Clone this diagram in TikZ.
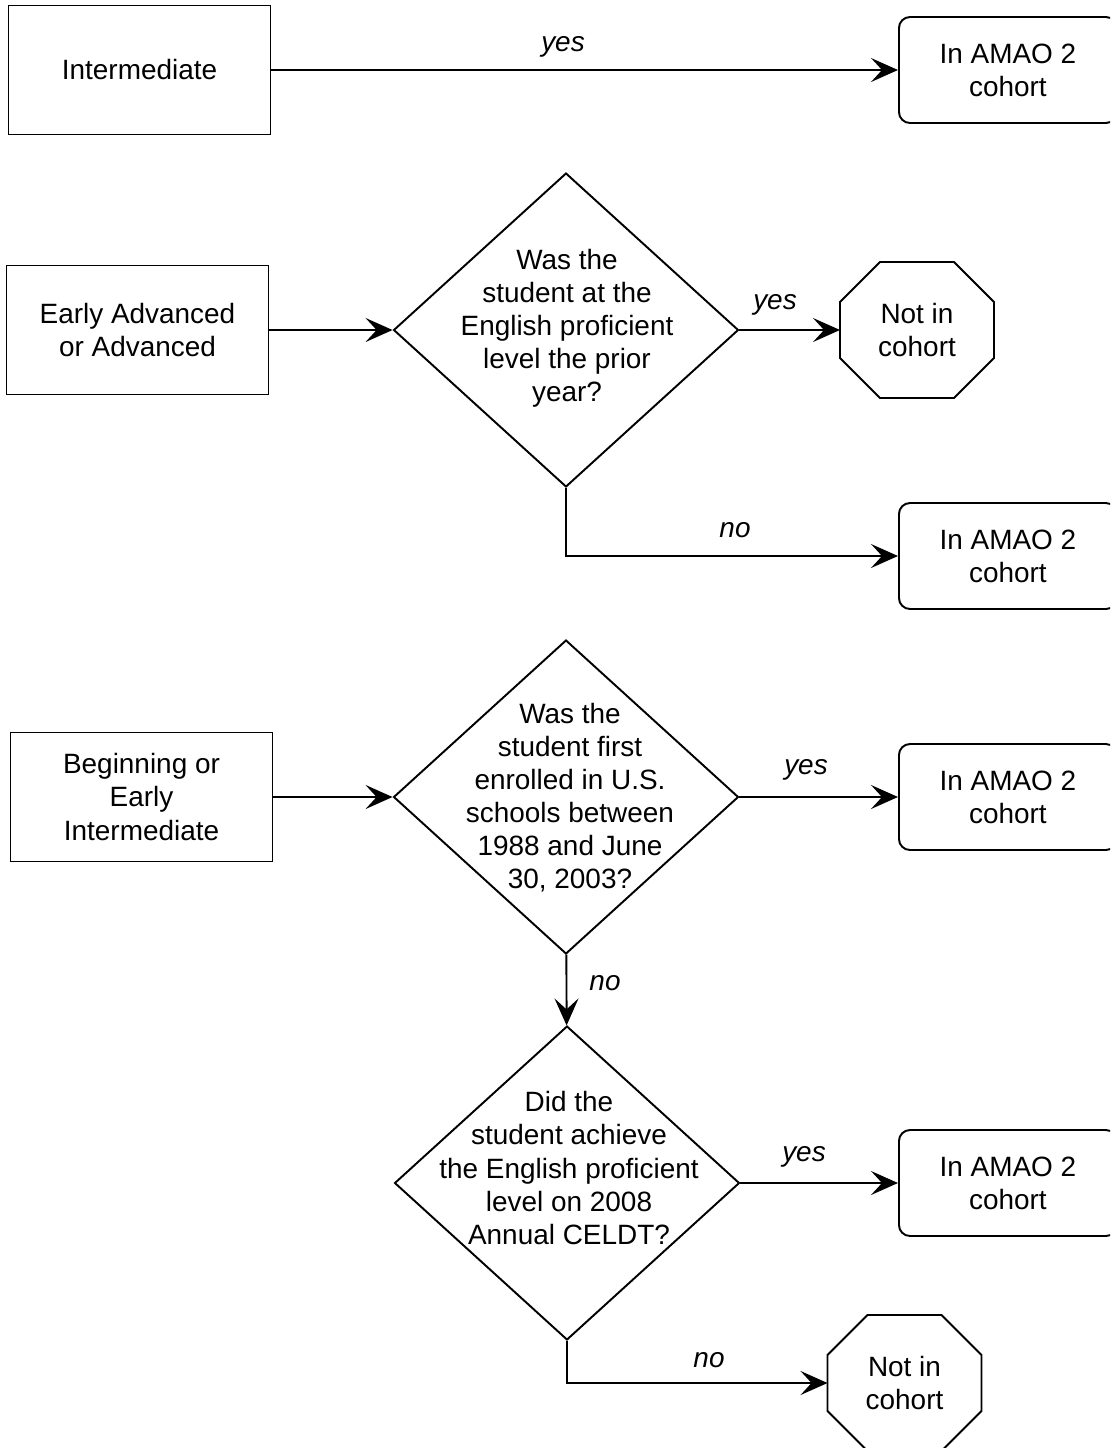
\documentclass[tikz,border=0pt]{standalone}
\usepackage{fontspec}
\setmainfont{Liberation Sans}
\usetikzlibrary{shapes.geometric,positioning,arrows.meta}
\tikzset {
levelbox/.style={shape=rectangle,draw,minimum width=5.24cm,minimum height=2.58cm},
question/.style={shape=diamond,draw,minimum width=6.9cm,minimum height=6.28cm,inner sep=0pt},
cohort/.style={shape=rectangle,draw,rounded corners=0.22cm,minimum width=4.36cm,minimum height=2.12cm,anchor=west},
exitbox/.style={shape=rectangle,minimum width=3.08cm,minimum height=2.72cm,outer sep=0pt},
answer/.style={font=\fontsize{15.9pt}{18.8pt}\selectfont\itshape}
}
% octagon drawn round a plain node
\newcommand{\octagonframe}[1]{%
\draw ([xshift=0.8cm]#1.north west) -- ([xshift=-0.8cm]#1.north east)
 -- ([yshift=-0.8cm]#1.north east) -- ([yshift=0.8cm]#1.south east)
 -- ([xshift=-0.8cm]#1.south east) -- ([xshift=0.8cm]#1.south west)
 -- ([yshift=0.8cm]#1.south west) -- ([yshift=-0.8cm]#1.north west) -- cycle;}

\begin{document}
\begin{tikzpicture}
[x=0.02cm,y=-0.02cm,line width=1.1pt,>={Stealth[length=0.54cm,width=0.48cm,inset=0.22cm]},
every node/.style={align=center,font=\fontsize{15.9pt}{18.8pt}\selectfont}]
\clip (0,0) rectangle (1110,1448);

% intermediate
\node[levelbox] (intermediate) at (139.5,70) {Intermediate};
\node[cohort] (cohort a) at (898,70) {In AMAO 2\\cohort};

% early advanced or advanced
\node[levelbox] (advanced) at (137.5,330) {Early Advanced\\or Advanced};
\node[question] (prior year) at (566,330) {};
\node (prior year text) at (567,328) {Was the\\student at the\\English proficient\\level the prior\\year?};
\node[exitbox] (not in a) at (917,330) {Not in\\cohort};
\octagonframe{not in a}
\node[cohort] (cohort b) at (898,556) {In AMAO 2\\cohort};

% beginning or early intermediate
\node[levelbox] (beginning) at (141.5,797) {Beginning or\\Early\\Intermediate};
\node[question] (first enrolled) at (566,797) {};
\node (first enrolled text) at (570,797.5) {Was the\\student first\\enrolled in U.S.\\schools between\\1988 and June\\30, 2003?};
\node[cohort] (cohort c) at (898,797) {In AMAO 2\\cohort};
\node[question] (celdt) at (567,1183) {};
\node (celdt text) at (569,1168) {Did the\\student achieve\\the English proficient\\level on 2008\\Annual CELDT?};
\node[cohort] (cohort d) at (898,1183) {In AMAO 2\\cohort};
\node[exitbox] (not in b) at (904.5,1383) {Not in\\cohort};
\octagonframe{not in b}

\node[answer] (yes a) at (563,47) {yes};
\node[answer] (yes b) at (775,305) {yes};
\node[answer] (no a) at (735,530) {no};
\node[answer] (yes c) at (806,770) {yes};
\node[answer] (no b) at (605,983) {no};
\node[answer] (yes d) at (804,1157) {yes};
\node[answer] (no c) at (709,1360) {no};

\draw[->] (intermediate) -- (cohort a);
\draw[->] (advanced) -- (prior year);
\draw[->] (prior year) -- (not in a);
\draw[->] (prior year.south) |- (cohort b);
\draw[->] (beginning) -- (first enrolled);
\draw[->] (first enrolled) -- (cohort c);
\draw[->] (first enrolled) -- (celdt);
\draw[->] (celdt) -- (cohort d);
\draw[->] (celdt.south) |- (not in b);
\end{tikzpicture}
\end{document}
